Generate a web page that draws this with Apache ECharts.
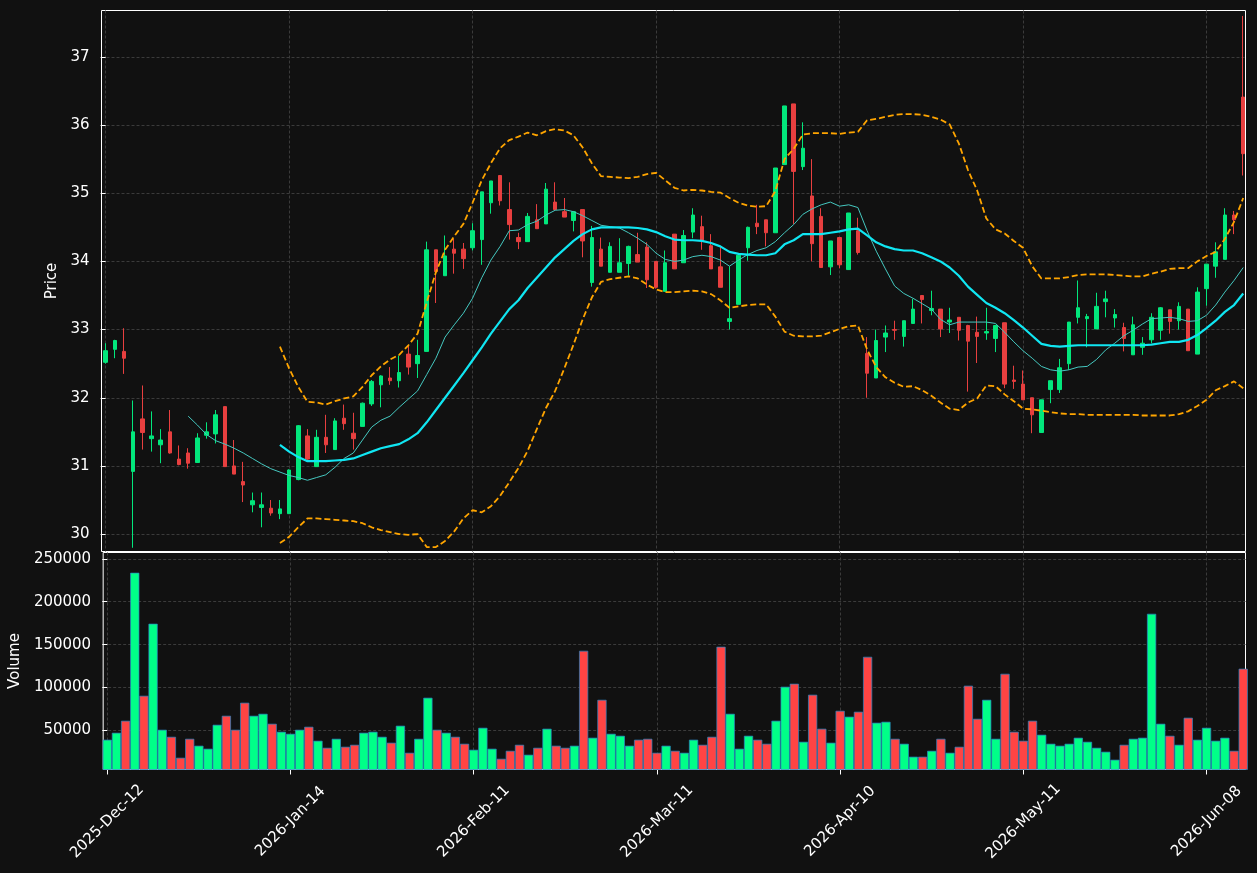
<!DOCTYPE html>
<html>
<head>
<meta charset="utf-8">
<script src="https://cdn.jsdelivr.net/npm/echarts@6/dist/echarts.min.js"></script>
<style>
html,body{margin:0;padding:0;background:#111111;}
#main{width:1257px;height:873px;}
</style>
</head>
<body>
<div id="main"></div>
<script>
const dates = [
'2025-12-12','2025-12-15','2025-12-16','2025-12-17','2025-12-18','2025-12-19','2025-12-22','2025-12-23','2025-12-26','2025-12-29',
'2025-12-30','2025-12-31','2026-01-02','2026-01-05','2026-01-06','2026-01-07','2026-01-08','2026-01-09','2026-01-12','2026-01-13',
'2026-01-14','2026-01-15','2026-01-16','2026-01-19','2026-01-20','2026-01-21','2026-01-22','2026-01-23','2026-01-26','2026-01-27',
'2026-01-28','2026-01-29','2026-01-30','2026-02-02','2026-02-03','2026-02-04','2026-02-05','2026-02-06','2026-02-09','2026-02-10',
'2026-02-11','2026-02-12','2026-02-13','2026-02-16','2026-02-17','2026-02-18','2026-02-19','2026-02-20','2026-02-23','2026-02-24',
'2026-02-25','2026-02-26','2026-02-27','2026-03-02','2026-03-03','2026-03-04','2026-03-05','2026-03-06','2026-03-09','2026-03-10',
'2026-03-11','2026-03-12','2026-03-13','2026-03-16','2026-03-17','2026-03-18','2026-03-19','2026-03-20','2026-03-23','2026-03-24',
'2026-03-25','2026-03-26','2026-03-27','2026-03-30','2026-03-31','2026-04-01','2026-04-02','2026-04-06','2026-04-08','2026-04-09',
'2026-04-10','2026-04-13','2026-04-14','2026-04-15','2026-04-16','2026-04-17','2026-04-20','2026-04-21','2026-04-22','2026-04-23',
'2026-04-24','2026-04-27','2026-04-28','2026-04-29','2026-04-30','2026-05-04','2026-05-05','2026-05-06','2026-05-07','2026-05-08',
'2026-05-11','2026-05-12','2026-05-13','2026-05-14','2026-05-15','2026-05-18','2026-05-19','2026-05-20','2026-05-21','2026-05-22',
'2026-05-25','2026-05-26','2026-05-27','2026-05-28','2026-05-29','2026-06-01','2026-06-02','2026-06-03','2026-06-04','2026-06-05',
'2026-06-08','2026-06-09','2026-06-10','2026-06-11','2026-06-12'];

const tickDates = ['2025-12-12','2026-01-14','2026-02-11','2026-03-11','2026-04-10','2026-05-11','2026-06-08'];

const opens = [
32.52,32.71,32.68,30.92,31.69,31.40,31.31,31.50,31.10,31.19,
31.05,31.45,31.47,31.87,31.00,30.77,30.43,30.39,30.38,30.30,
30.30,30.80,31.44,30.99,31.42,31.24,31.70,31.48,31.58,31.91,
32.19,32.29,32.25,32.64,32.50,32.68,34.17,33.79,34.18,34.18,
34.20,34.32,34.86,35.26,34.76,34.35,34.29,34.61,34.55,34.87,
34.73,34.60,34.76,33.69,34.18,33.84,33.84,33.97,34.10,34.21,
34.00,33.56,34.40,33.98,34.43,34.51,34.23,33.92,33.12,33.37,
34.20,34.56,34.61,34.42,35.42,36.31,35.39,34.96,34.66,33.92,
34.35,33.88,34.45,32.65,32.29,32.89,33.00,32.90,33.09,33.50,
33.28,33.30,33.11,33.18,33.06,32.96,32.95,32.87,33.10,32.26,
32.20,32.00,31.49,32.12,32.12,32.50,33.18,33.16,33.01,33.41,
33.17,33.03,32.63,32.74,32.85,32.99,33.29,33.13,33.30,32.64,
33.60,33.93,34.03,34.68,36.41];

const closes = [
32.69,32.84,32.58,31.50,31.49,31.44,31.38,31.19,31.02,31.04,
31.41,31.50,31.75,30.99,30.88,30.72,30.49,30.43,30.31,30.37,
30.94,31.59,31.10,31.42,31.31,31.66,31.62,31.40,31.92,32.24,
32.32,32.25,32.37,32.45,32.62,34.17,33.85,34.08,34.12,34.04,
34.45,35.02,35.18,34.89,34.54,34.29,34.66,34.48,35.06,34.76,
34.65,34.73,34.30,34.35,33.93,34.22,33.98,34.22,33.99,33.73,
33.62,33.98,33.89,34.38,34.68,34.31,33.89,33.62,33.16,34.09,
34.50,34.51,34.42,35.37,36.28,35.32,35.66,34.26,33.91,34.30,
33.95,34.71,34.13,32.36,32.84,32.95,32.99,33.13,33.30,33.44,
33.31,33.01,33.14,32.99,32.83,32.90,32.97,33.06,32.20,32.24,
31.97,31.75,31.97,32.25,32.44,33.11,33.32,33.19,33.34,33.45,
33.22,32.87,33.07,32.80,33.18,33.32,33.12,33.34,32.69,33.55,
33.96,34.14,34.68,34.61,35.58];

const lows = [
32.50,32.58,32.35,29.80,31.24,31.21,31.04,31.18,31.01,30.96,
31.05,31.40,31.33,30.99,30.88,30.47,30.32,30.10,30.27,30.22,
30.30,30.79,31.06,30.99,31.19,31.24,31.53,31.24,31.58,31.88,
31.86,32.19,32.15,32.34,32.29,32.68,33.39,33.79,33.82,33.89,
34.16,33.95,34.70,34.82,34.32,34.18,34.29,34.48,34.55,34.75,
34.65,34.44,34.06,33.63,33.93,33.84,33.84,33.79,33.99,33.61,
33.60,33.56,33.89,33.98,34.34,34.17,33.89,33.62,33.00,33.37,
34.01,34.40,34.22,34.42,35.42,34.55,35.34,34.00,33.91,33.80,
33.90,33.88,34.10,32.00,32.29,32.67,32.85,32.75,33.09,33.09,
33.21,32.89,32.95,32.84,32.09,32.51,32.85,32.67,32.14,32.13,
31.97,31.48,31.49,31.92,32.07,32.41,33.09,32.74,33.01,33.18,
33.03,32.68,32.63,32.63,32.80,32.85,32.94,33.00,32.69,32.64,
33.35,33.76,34.03,34.40,35.26];

const highs = [
32.80,32.85,33.02,31.96,32.18,31.80,31.54,31.82,31.30,31.26,
31.48,31.64,31.82,31.87,31.38,31.06,30.61,30.61,30.50,30.50,
30.95,31.60,31.54,31.53,31.75,31.70,31.90,31.78,31.93,32.26,
32.33,32.45,32.62,32.76,32.85,34.29,34.17,34.38,34.33,34.27,
34.56,35.02,35.18,35.26,35.16,34.42,34.71,34.84,35.15,35.16,
34.93,34.74,34.76,34.52,34.35,34.28,34.34,34.23,34.42,34.28,
34.00,34.16,34.40,34.46,34.78,34.67,34.40,34.21,33.93,34.10,
34.51,34.83,34.61,35.37,36.28,36.31,36.04,35.50,34.78,34.30,
34.35,34.71,34.64,32.89,33.00,33.06,33.13,33.13,33.45,33.50,
33.57,33.30,33.32,33.18,33.07,33.19,33.32,33.07,33.10,32.47,
32.40,32.00,31.97,32.25,32.57,33.11,33.72,33.23,33.54,33.57,
33.30,33.10,33.19,32.89,33.24,33.33,33.29,33.40,33.30,33.62,
33.96,34.28,34.78,34.74,37.60];

const volumes = [
39200,47300,61300,233700,90400,174300,50800,42600,18200,40300,
32200,28700,56600,67100,50800,82300,67100,69400,57800,48500,
46100,50800,54300,38000,29800,40300,31000,33300,47300,48500,
42600,35700,55500,24000,40300,88100,50800,47300,42600,34500,
27500,53100,28700,17000,26300,33300,21700,29800,52000,32200,
29800,32200,142800,41500,85700,46100,43800,32200,39200,40300,
24000,32200,26300,24000,39200,33300,42600,147500,69400,28700,
43800,39200,34500,61300,100900,104400,36800,91600,52000,35700,
72900,66000,71800,135800,59000,60100,40300,34500,19400,19400,
26300,40300,24000,31000,102100,63600,85700,40300,116000,48500,
38000,61300,45000,34500,32200,34500,41500,36800,29800,25200,
15900,33300,40300,41500,185900,57800,43800,33300,64800,39200,
53100,38000,41500,26300,121900];

// moving average 10 (first value at index 9)
const ma10Start = 9;
const ma10 = [
31.73,31.60,31.46,31.37,31.32,31.26,31.19,31.11,31.03,30.96,
30.91,30.86,30.83,30.79,30.83,30.87,30.98,31.11,31.19,31.38,
31.57,31.67,31.73,31.86,31.98,32.10,32.34,32.58,32.89,33.07,
33.24,33.46,33.76,34.02,34.22,34.45,34.46,34.54,34.59,34.68,
34.75,34.76,34.73,34.67,34.60,34.53,34.51,34.49,34.42,34.34,
34.25,34.12,34.03,34.00,34.02,34.07,34.09,34.07,34.02,33.93,
34.02,34.10,34.16,34.20,34.29,34.42,34.54,34.69,34.77,34.83,
34.87,34.81,34.83,34.79,34.45,34.15,33.89,33.64,33.53,33.46,
33.38,33.30,33.15,33.07,33.11,33.11,33.11,33.11,33.09,32.96,
32.82,32.69,32.58,32.46,32.41,32.39,32.41,32.45,32.46,32.56,
32.70,32.80,32.91,32.99,33.08,33.16,33.17,33.18,33.16,33.12,
33.13,33.21,33.36,33.55,33.72,33.91];

// moving average 20 and Bollinger bands (first value at index 19)
const bandStart = 19;
const ma20 = [
31.31,31.21,31.13,31.07,31.07,31.07,31.08,31.09,31.11,31.16,
31.21,31.26,31.29,31.32,31.39,31.48,31.64,31.82,32.00,32.18,
32.36,32.55,32.74,32.94,33.12,33.30,33.43,33.61,33.76,33.91,
34.06,34.18,34.30,34.40,34.47,34.50,34.50,34.50,34.50,34.49,
34.47,34.43,34.37,34.32,34.31,34.31,34.30,34.27,34.22,34.14,
34.11,34.10,34.09,34.09,34.12,34.25,34.31,34.40,34.40,34.40,
34.42,34.44,34.47,34.48,34.38,34.28,34.22,34.18,34.16,34.16,
34.12,34.06,34.00,33.91,33.79,33.63,33.51,33.39,33.32,33.24,
33.14,33.03,32.91,32.79,32.76,32.75,32.76,32.77,32.77,32.77,
32.77,32.77,32.77,32.77,32.77,32.78,32.80,32.82,32.82,32.85,
32.92,33.02,33.13,33.26,33.36,33.53];

const bbUpper = [
32.75,32.43,32.16,31.94,31.93,31.90,31.95,31.99,32.02,32.16,
32.33,32.46,32.56,32.63,32.77,32.94,33.40,33.84,34.17,34.37,
34.55,34.86,35.19,35.44,35.66,35.78,35.83,35.89,35.85,35.91,
35.94,35.92,35.85,35.67,35.44,35.25,35.24,35.23,35.22,35.24,
35.28,35.30,35.19,35.08,35.04,35.05,35.04,35.02,35.01,34.93,
34.86,34.82,34.80,34.81,35.03,35.50,35.65,35.86,35.88,35.88,
35.88,35.87,35.89,35.90,36.07,36.09,36.12,36.15,36.16,36.16,
36.15,36.12,36.08,36.01,35.73,35.34,35.04,34.63,34.47,34.41,
34.30,34.20,33.93,33.75,33.75,33.75,33.77,33.80,33.81,33.81,
33.81,33.80,33.79,33.78,33.78,33.82,33.85,33.89,33.90,33.90,
34.00,34.08,34.14,34.33,34.58,34.93];

const bbLower = [
29.87,29.96,30.10,30.23,30.23,30.22,30.21,30.20,30.19,30.16,
30.10,30.06,30.03,30.00,29.99,30.00,29.81,29.81,29.90,30.04,
30.23,30.35,30.32,30.41,30.56,30.76,30.97,31.22,31.54,31.85,
32.10,32.43,32.78,33.15,33.47,33.70,33.74,33.76,33.78,33.75,
33.66,33.59,33.55,33.55,33.56,33.57,33.56,33.52,33.43,33.32,
33.34,33.36,33.37,33.37,33.19,32.97,32.91,32.90,32.90,32.91,
32.96,33.01,33.05,33.06,32.71,32.45,32.30,32.22,32.16,32.17,
32.11,32.03,31.93,31.84,31.82,31.93,31.99,32.18,32.17,32.05,
31.95,31.84,31.83,31.81,31.79,31.77,31.76,31.76,31.75,31.75,
31.75,31.75,31.75,31.75,31.74,31.74,31.74,31.74,31.76,31.80,
31.88,31.97,32.11,32.17,32.24,32.14];

const priceTicks = [30, 31, 32, 33, 34, 35, 36, 37];
const volumeTicks = [50000, 100000, 150000, 200000, 250000];

// ---------- build ----------
const MONTHS = ['Jan','Feb','Mar','Apr','May','Jun','Jul','Aug','Sep','Oct','Nov','Dec'];
function fmtDate(s) {
  const p = s.split('-');
  return p[0] + '-' + MONTHS[parseInt(p[1], 10) - 1] + '-' + p[2];
}
const tickIdx = tickDates.map(d => dates.indexOf(d));

const UP = '#02e77c', DOWN = '#e83f3f';
const VUP = '#00ff88', VDOWN = '#ff4444';

const candleData = dates.map((d, i) => [i, opens[i], closes[i], lows[i], highs[i]]);
const volData = volumes.map((v, i) => ({
  value: [i, v],
  itemStyle: { color: closes[i] >= opens[i] ? VUP : VDOWN }
}));
const lineData = (arr, start) => arr.map((v, k) => [start + k, v]);

const GRIDC = '#3b3b3b';
const TXT = '#ffffff';
const FONT = 'DejaVu Sans';
const FS = 15;

const xCommon = {
  type: 'value', min: -0.45, max: 124.25,
  axisLine: { show: false },
  splitLine: { show: true, lineStyle: { color: GRIDC, type: [3, 2], width: 1 } }
};

const chart = echarts.init(document.getElementById('main'), null, { renderer: 'canvas' });
chart.setOption({
  backgroundColor: '#111111',
  animation: false,
  textStyle: { fontFamily: FONT },
  grid: [
    { left: 101.5, right: 11.5, top: 10.5, height: 541, show: true, borderColor: '#ffffff', borderWidth: 1, backgroundColor: 'transparent' },
    { left: 101.5, right: 11.5, top: 552.5, height: 217, show: true, borderColor: '#ffffff', borderWidth: 1, backgroundColor: 'transparent' }
  ],
  xAxis: [
    Object.assign({}, xCommon, {
      gridIndex: 0,
      axisTick: { show: false, customValues: tickIdx },
      axisLabel: { show: false, customValues: tickIdx }
    }),
    Object.assign({}, xCommon, {
      gridIndex: 1,
      axisTick: { show: true, customValues: tickIdx, length: 5, lineStyle: { color: '#ffffff', width: 1 } },
      axisLabel: {
        customValues: tickIdx, rotate: 45, align: 'center', verticalAlign: 'middle', margin: 52,
        color: TXT, fontSize: FS, fontFamily: FONT,
        formatter: v => fmtDate(dates[Math.round(v)])
      }
    })
  ],
  yAxis: [
    {
      type: 'value', gridIndex: 0, min: 29.745, max: 37.68,
      axisLine: { show: false },
      axisTick: { show: true, customValues: priceTicks, length: 5, lineStyle: { color: '#ffffff', width: 1 } },
      axisLabel: { customValues: priceTicks, color: TXT, fontSize: FS, fontFamily: FONT, margin: 12,
        formatter: v => String(v) },
      splitLine: { show: true, lineStyle: { color: GRIDC, type: [3, 2], width: 1 } },
      name: 'Price', nameLocation: 'middle', nameGap: 36,
      nameTextStyle: { color: TXT, fontSize: FS, fontFamily: FONT }
    },
    {
      type: 'value', gridIndex: 1, min: 4540, max: 257300,
      axisLine: { show: false },
      axisTick: { show: true, customValues: volumeTicks, length: 5, lineStyle: { color: '#ffffff', width: 1 } },
      axisLabel: { customValues: volumeTicks, color: TXT, fontSize: FS, fontFamily: FONT, margin: 12,
        formatter: v => String(Math.round(v)) },
      splitLine: { show: true, lineStyle: { color: GRIDC, type: [3, 2], width: 1 } },
      name: 'Volume', nameLocation: 'middle', nameGap: 76,
      nameTextStyle: { color: TXT, fontSize: FS, fontFamily: FONT }
    }
  ],
  series: [
    {
      type: 'candlestick', xAxisIndex: 0, yAxisIndex: 0,
      data: candleData, encode: { x: 0, y: [1, 2, 3, 4] },
      barWidth: 4,
      itemStyle: { color: UP, color0: DOWN, borderColor: UP, borderColor0: DOWN, borderWidth: 1 },
      z: 2
    },
    {
      type: 'line', name: 'MA10', xAxisIndex: 0, yAxisIndex: 0,
      data: lineData(ma10, ma10Start), showSymbol: false,
      lineStyle: { color: '#45c8c0', width: 1 }, z: 3
    },
    {
      type: 'line', name: 'MA20', xAxisIndex: 0, yAxisIndex: 0,
      data: lineData(ma20, bandStart), showSymbol: false,
      lineStyle: { color: '#10e6f2', width: 2.2 }, z: 4
    },
    {
      type: 'line', name: 'Upper', xAxisIndex: 0, yAxisIndex: 0,
      data: lineData(bbUpper, bandStart), showSymbol: false,
      lineStyle: { color: '#ffa500', width: 1.8, type: [6, 3] }, z: 4
    },
    {
      type: 'line', name: 'Lower', xAxisIndex: 0, yAxisIndex: 0,
      data: lineData(bbLower, bandStart), showSymbol: false,
      lineStyle: { color: '#ffa500', width: 1.8, type: [6, 3] }, z: 4
    },
    {
      type: 'bar', xAxisIndex: 1, yAxisIndex: 1,
      data: volData, barCategoryGap: '0%',
      itemStyle: { borderColor: '#2a86c6', borderWidth: 0.7 }
    }
  ]
});
</script>
</body>
</html>
